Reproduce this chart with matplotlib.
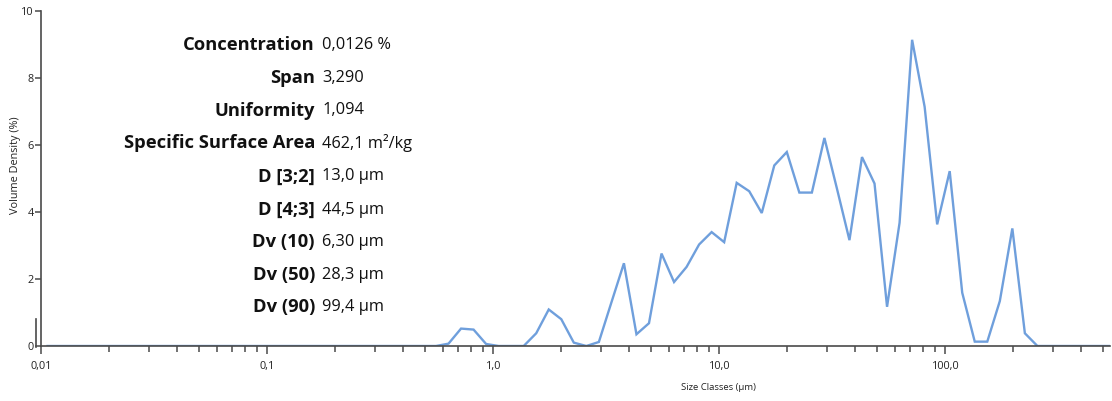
import numpy as np
import matplotlib
matplotlib.use("Agg")
import matplotlib.pyplot as plt
from matplotlib.ticker import FixedLocator, NullFormatter

plt.rcParams['font.family'] = ['Open Sans', 'DejaVu Sans']

# Mastersizer-style size classes: 100 log-spaced classes 0.01 - 3500 um (midpoints)
edges = np.geomspace(0.01, 3500, 101)
sizes = np.sqrt(edges[:-1] * edges[1:])

# Volume density (%) per class (classes 32..79 nonzero)
density_nonzero = [0.07, 0.52, 0.49, 0.06, 0.0, 0.0, 0.0, 0.38, 1.09, 0.80,
                   0.10, 0.0, 0.12, 1.30, 2.47, 0.35, 0.68, 2.76, 1.91, 2.36,
                   3.03, 3.40, 3.10, 4.87, 4.62, 3.97, 5.39, 5.79, 4.58, 4.58,
                   6.21, 4.70, 3.16, 5.64, 4.85, 1.17, 3.68, 9.14, 7.14, 3.63,
                   5.22, 1.59, 0.13, 0.13, 1.34, 3.51, 0.38, 0.0]
start_class = 32
density = [0.0] * start_class + density_nonzero
density = density + [0.0] * (len(sizes) - len(density))

stat_labels = ["Concentration", "Span", "Uniformity", "Specific Surface Area",
               "D [3;2]", "D [4;3]", "Dv (10)", "Dv (50)", "Dv (90)"]
stat_values = ["0,0126 %", "3,290", "1,094", "462,1 m²/kg",
               "13,0 µm", "44,5 µm", "6,30 µm", "28,3 µm", "99,4 µm"]

xtick_vals = [0.01, 0.1, 1.0, 10.0, 100.0]
xtick_labels = ["0,01", "0,1", "1,0", "10,0", "100,0"]
ytick_vals = [0, 2, 4, 6, 8, 10]

W, H = 1112, 401
fig = plt.figure(figsize=(W / 100, H / 100), dpi=100)
ax_left, ax_right, ax_top, ax_bot = 41.3, 1110, 11, 346
ax = fig.add_axes([ax_left / W, 1 - ax_bot / H, (ax_right - ax_left) / W, (ax_bot - ax_top) / H])

ax.plot(sizes, density, color='#6f9fdc', lw=1.7, solid_joinstyle='miter', clip_on=True)

ax.set_xscale('log')
xmax = 10 ** (-2 + (ax_right - ax_left) / 226.0)
ax.set_xlim(0.01, xmax)
ax.set_ylim(0, 10)

ax.xaxis.set_major_locator(FixedLocator(xtick_vals))
ax.set_xticklabels(xtick_labels)
minor = [m * d for d in [0.01, 0.1, 1, 10, 100] for m in range(2, 10)]
ax.xaxis.set_minor_locator(FixedLocator([v for v in minor if v < xmax]))
ax.xaxis.set_minor_formatter(NullFormatter())
ax.set_yticks(ytick_vals)
ax.set_yticklabels([str(v) for v in ytick_vals])

for s in ['top', 'right']:
    ax.spines[s].set_visible(False)
for s in ['left', 'bottom']:
    ax.spines[s].set_color('#4a4a4a')
    ax.spines[s].set_linewidth(1.2)

ax.tick_params(axis='x', which='major', length=6, width=1.1, color='#4a4a4a',
               labelsize=7.8, labelcolor='#222222', pad=5)
ax.tick_params(axis='y', which='major', length=4, width=1.1, color='#4a4a4a',
               labelsize=7.8, labelcolor='#222222', pad=1.5)
ax.tick_params(axis='x', which='minor', length=4.5, width=1.1, color='#4a4a4a')

# artifact vertical mark near origin
fig.add_artist(plt.Line2D([36 / W, 36 / W], [1 - 347 / H, 1 - 319 / H], color='#4a4a4a', lw=1.2))

fig.text(16 / W, 1 - 165 / H, "Volume Density (%)", rotation=90, ha='center', va='center',
         fontsize=7.8, color='#222222')
fig.text(718 / W, 1 - 388 / H, "Size Classes (µm)", ha='center', va='center',
         fontsize=6.8, color='#222222')

row_y = [45, 78.3, 110.5, 143, 176.5, 209.5, 241.7, 275, 307.3]
for lab, val, y in zip(stat_labels, stat_values, row_y):
    fig.text(315 / W, 1 - y / H, lab, ha='right', va='center', fontsize=13.2,
             fontweight='bold', color='#111111')
    fig.text(322 / W, 1 - y / H, val, ha='left', va='center', fontsize=11.8,
             color='#111111')

fig.savefig("out.png", dpi=100)
